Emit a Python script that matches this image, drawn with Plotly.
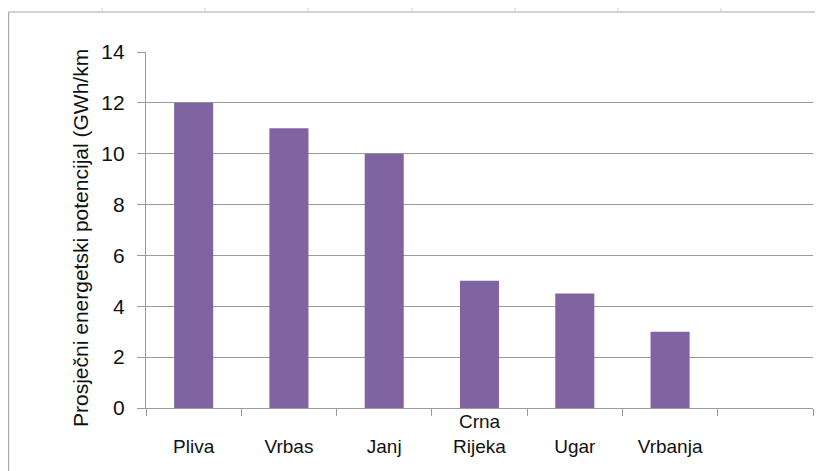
import plotly.graph_objects as go

# ---- data ----
categories = ["Pliva", "Vrbas", "Janj", "Crna Rijeka", "Ugar", "Vrbanja", " "]
tick_labels = ["<br>Pliva", "<br>Vrbas", "<br>Janj", "Crna<br>Rijeka", "<br>Ugar", "<br>Vrbanja", " "]
values = [12, 11, 10, 5, 4.5, 3, None]
y_title = "Prosječni energetski potencijal (GWh/km"

# page body has an 8px margin, so the figure is drawn 8px in from the window corner
OFF = 8
WIN_W, WIN_H = 823, 471
W, H = WIN_W - OFF, WIN_H - OFF
# plot area in window pixels: x 146..813, y 52..408
L, R, T, B = 146 - OFF, WIN_W - 813, 52 - OFF, WIN_H - 408
pw, ph = W - L - R, H - T - B

def px(x):  # window pixel -> paper x
    return (x - OFF - L) / pw

def py(y):  # window pixel -> paper y
    return (H - B - (y - OFF)) / ph

GRID = "#9a9a9a"
BAR = "#8064A2"
FONT = "Liberation Sans, Arial, sans-serif"

fig = go.Figure(go.Bar(
    x=categories, y=values, marker=dict(color=BAR, line=dict(width=0)),
))

shapes = []
# spreadsheet frame lines
shapes.append(dict(type="line", xref="paper", yref="paper", x0=px(8.6), x1=px(WIN_W), y0=py(12), y1=py(12),
                   line=dict(color="#a8a8a8", width=1.2), layer="above"))
shapes.append(dict(type="line", xref="paper", yref="paper", x0=px(8.6), x1=px(8.6), y0=py(12), y1=py(WIN_H),
                   line=dict(color="#a8a8a8", width=1.2), layer="above"))
for cx in [102, 205, 308, 412, 515, 618, 721]:
    shapes.append(dict(type="line", xref="paper", yref="paper", x0=px(cx), x1=px(cx), y0=py(8), y1=py(12),
                       line=dict(color="#c8cfdc", width=1), layer="above"))

fig.update_layout(
    width=W, height=H,
    margin=dict(l=L, r=R, t=T, b=B, pad=0, autoexpand=False),
    paper_bgcolor="white", plot_bgcolor="white",
    bargap=0.59,
    showlegend=False,
    font=dict(family=FONT, color="#111111"),
    shapes=shapes,
    annotations=[dict(
        text=y_title, textangle=-90, xref="paper", yref="paper",
        x=px(80), y=py(238), xanchor="center", yanchor="middle",
        showarrow=False, font=dict(size=21, family=FONT, color="#111111"),
    )],
    xaxis=dict(
        type="category", categoryorder="array", categoryarray=categories,
        tickmode="array", tickvals=categories, ticktext=tick_labels,
        tickson="boundaries", ticks="outside", ticklen=7, tickcolor=GRID, tickwidth=1.3,
        showline=True, linecolor=GRID, linewidth=1.3,
        showgrid=False, zeroline=False, automargin=False,
        tickfont=dict(size=19, family=FONT, color="#111111"),
        ticklabelstandoff=-4,
        range=[-0.5, 6.5], fixedrange=True,
    ),
    yaxis=dict(
        range=[0, 14], dtick=2, tick0=0,
        ticks="outside", ticklen=8, tickcolor=GRID, tickwidth=1.3,
        showline=True, linecolor=GRID, linewidth=1.3,
        showgrid=True, gridcolor=GRID, gridwidth=1.3,
        zeroline=False, automargin=False,
        tickfont=dict(size=21, family=FONT, color="#111111"),
        ticklabelstandoff=8,
    ),
)

fig.write_html("out.html")
